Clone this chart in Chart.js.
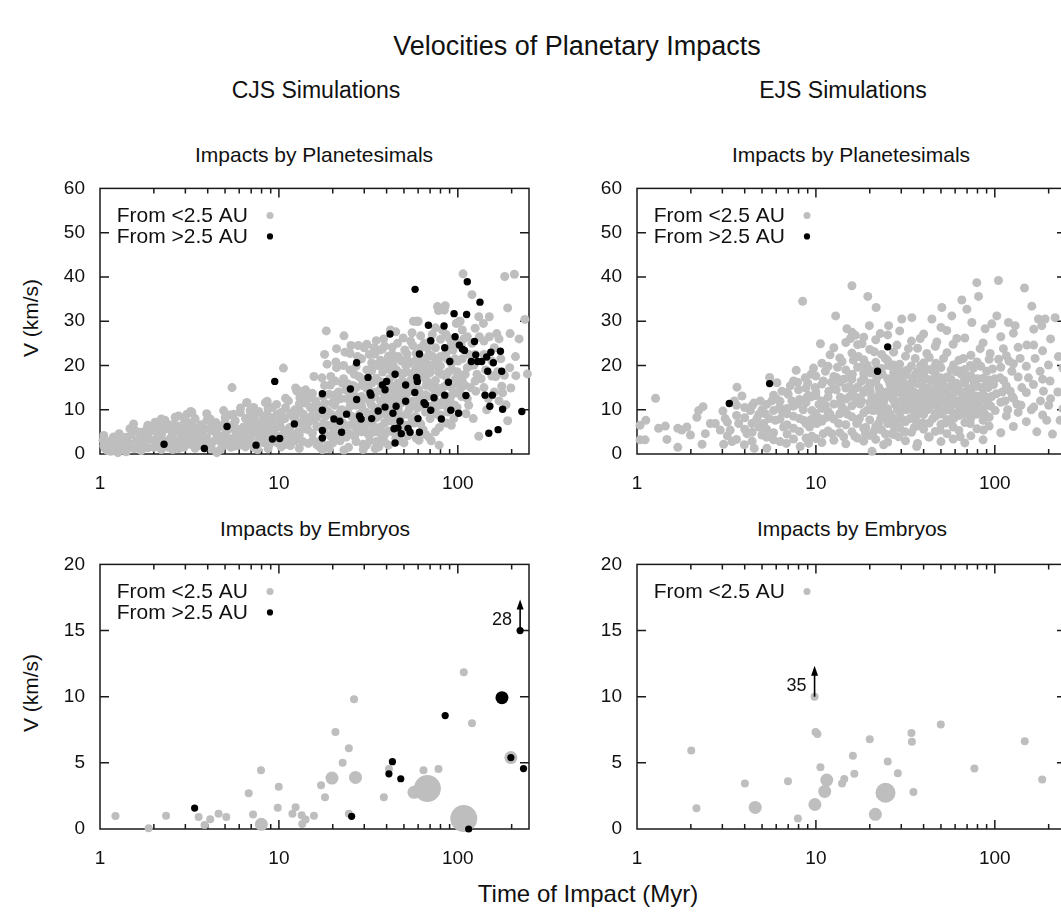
<!DOCTYPE html>
<html>
<head>
<meta charset="utf-8">
<title>Velocities of Planetary Impacts</title>
<script src="https://cdn.jsdelivr.net/npm/chart.js@4.4.1/dist/chart.umd.min.js"></script>
<style>
html, body { margin: 0; padding: 0; background: #fff; overflow: hidden; }
#fig { position: relative; width: 1061px; height: 921px; overflow: hidden;
       font-family: 'Liberation Sans', Arial, Helvetica, sans-serif; color: #111; }
.t { position: absolute; white-space: nowrap; transform: translate(-50%, -50%); line-height: 1; }
.rot { transform: translate(-50%, -50%) rotate(-90deg); }
canvas { position: absolute; }
</style>
</head>
<body>
<div id="fig">
  <div class="t" style="left:577px;top:46px;font-size:27px">Velocities of Planetary Impacts</div>
  <div class="t" style="left:316px;top:90px;font-size:23px">CJS Simulations</div>
  <div class="t" style="left:843px;top:90px;font-size:23px">EJS Simulations</div>
  <div class="t" style="left:314px;top:154px;font-size:21px">Impacts by Planetesimals</div>
  <div class="t" style="left:851px;top:154px;font-size:21px">Impacts by Planetesimals</div>
  <div class="t" style="left:315px;top:528px;font-size:21px">Impacts by Embryos</div>
  <div class="t" style="left:852px;top:528px;font-size:21px">Impacts by Embryos</div>
  <div class="t rot" style="left:30px;top:318px;font-size:21px">V (km/s)</div>
  <div class="t rot" style="left:30px;top:693px;font-size:21px">V (km/s)</div>
  <div class="t" style="left:588px;top:894px;font-size:24px">Time of Impact (Myr)</div>

  <canvas id="cjsPlan" width="545" height="320" style="left:0;top:170px"></canvas>
  <canvas id="ejsPlan" width="545" height="320" style="left:537px;top:170px"></canvas>
  <canvas id="cjsEmb" width="545" height="319" style="left:0;top:546px"></canvas>
  <canvas id="ejsEmb" width="545" height="319" style="left:537px;top:546px"></canvas>
</div>

<script>
// x axis labels (Myr, log scale)
const xTickValues = [1, 10, 100];
const seriesLabels = ['From <2.5 AU', 'From >2.5 AU'];

// CJS, impacts by planetesimals: [time Myr, velocity km/s]
const cjsPlanInner = [
  [1.04,3.1],[1.07,1.25],[1.14,2.0],[1.19,3.85],[1.24,2.7],[1.26,0.3],[1.32,3.5],[1.35,2.0],[1.47,5.7],[1.54,6.8],
  [1.57,5.3],[1.64,1.6],[1.68,3.85],[1.79,3.5],[1.83,5.7],[1.95,5.3],[2.03,7.2],[2.08,2.4],[2.17,6.1],[2.21,4.6],
  [2.31,7.6],[2.36,5.7],[2.41,3.1],[2.52,5.3],[2.63,8.3],[2.69,6.4],[2.81,4.6],[2.93,2.4],[2.99,7.6],[3.06,9.0],
  [3.13,5.3],[3.26,9.4],[3.33,6.1],[3.41,3.1],[3.56,5.3],[3.87,5.7],[3.96,7.6],[4.13,7.9],[4.22,5.3],[4.41,3.1],
  [4.5,0.3],[4.91,9.8],[5.01,8.3],[5.13,5.3],[5.47,15.0],[5.58,9.0],[5.71,5.3],[5.83,3.1],[6.08,9.4],[6.35,6.1],
  [6.63,11.6],[6.78,8.3],[6.92,5.3],[7.23,10.5],[7.38,7.6],[7.87,3.1],[8.05,6.1],[8.4,11.6],[8.59,9.0],[8.77,6.1],
  [9.16,10.5],[9.77,9.0],[10.2,6.1],[10.6,19.4],[10.9,10.5],[11.3,12.0],[12.1,8.3],[12.6,14.2],[13.1,12.7],[13.7,9.0],
  [14.3,13.4],[15.0,10.5],[15.7,7.6],
  [1.1,0.8],[1.2,1.5],[1.3,1.0],[1.45,2.5],[1.55,1.2],[1.6,3.0],[1.75,2.2],[1.9,3.3],[2.0,1.5],[2.1,4.0],
  [2.25,2.8],[2.4,1.5],[2.5,3.8],[2.6,2.0],[2.75,1.2],[2.85,3.6],[3.0,4.5],[3.2,2.2],[3.5,1.8],[3.7,4.2],
  [3.9,2.8],[4.0,1.8],[4.3,6.5],[4.6,4.2],[4.8,2.5],[5.2,3.5],[5.4,1.5],[5.6,6.8],[6.0,2.0],[6.2,4.5],
  [6.5,3.0],[6.8,6.8],[7.0,2.2],[7.4,4.8],[7.6,1.0],[7.8,5.5],[8.2,8.5],[8.4,3.8],[8.8,2.0],[9.0,7.5],
  [9.4,4.8],[9.8,2.5],[10.4,4.2],[10.8,8.0],[11.0,2.2],[11.5,6.0],[11.8,3.5],[12.3,10.0],[12.8,5.0],[13.3,7.0],
  [13.6,2.8],[14.0,11.5],[14.5,5.5],[15.2,8.5],[15.5,3.2],[16.0,12.0],[16.3,6.2],[16.8,9.5],[17.0,1.5],
  [3.22,9.6],[6.6,11.6],[8.6,11.9],[14.1,14.5],[15.7,17.5],[13.2,14.2],[12.4,14.9],
  [1.05,1.8],[1.05,4.2],[1.15,0.6],[1.15,3.0],[1.28,2.2],[1.28,4.6],[1.4,1.2],[1.4,3.8],[1.4,0.5],[1.5,4.4],
  [1.7,0.8],[1.7,2.8],[1.7,4.9],[1.85,1.4],[1.85,4.3],[1.85,6.5],[2.05,3.0],[2.05,5.8],[2.2,1.0],[2.2,3.5],
  [2.2,7.9],[2.35,2.3],[2.35,6.9],[2.55,1.0],[2.55,4.5],[2.55,6.6],[2.75,3.0],[2.75,5.8],[2.75,8.6],[2.95,1.5],
  [2.95,5.0],[2.95,6.9],[3.15,3.5],[3.15,7.0],[3.4,1.3],[3.4,4.4],[3.4,8.0],[3.65,2.9],[3.65,6.6],[3.95,3.8],
  [3.95,9.1],[4.2,1.2],[4.2,2.4],[4.2,6.0],[4.45,4.8],[4.45,7.1],[4.7,1.0],[4.7,3.3],[4.7,6.2],[5.0,2.0],
  [5.0,4.4],[5.0,7.2],[5.3,2.8],[5.3,6.0],[5.3,8.8],[5.7,1.8],[5.7,4.0],[5.7,7.5],[6.1,3.3],[6.1,5.6],
  [6.1,10.4],[6.5,1.6],[6.5,4.9],[6.5,8.0],[6.9,3.7],[6.9,6.4],[6.9,9.8],[7.3,1.4],[7.3,5.8],[7.3,8.7],
  [7.7,3.2],[7.7,7.0],[7.7,9.6],[8.2,2.6],[8.2,4.5],[8.2,6.8],[8.7,1.2],[8.7,5.0],[8.7,8.1],[8.7,10.2],
  [9.2,2.9],[9.2,5.6],[9.2,8.2],[9.7,3.8],[9.7,6.8],[9.7,11.2],[10.3,1.6],[10.3,7.6],[10.3,9.4],[10.9,3.1],
  [10.9,5.3],[10.9,12.6],[11.6,1.9],[11.6,4.7],[11.6,9.2],[12.3,3.0],[12.3,6.9],[12.3,8.4],[13.0,1.3],[13.0,4.3],
  [13.0,9.9],[13.0,11.3],[13.8,5.7],[13.8,8.1],[14.6,2.4],[14.6,7.1],[14.6,12.5],[15.4,4.7],[15.4,10.2],[15.4,13.7],
  [16.3,2.1],[16.3,8.3],[16.3,11.1],
  [18.4,27.8],[23.1,26.7],[23.4,23.0],[21.0,19.5],[18.6,20.3],[19.4,15.6],
  [17.5,1.0],[17.8,7.0],[18.0,11.5],[18.3,4.5],[19.0,13.5],[19.6,9.0],[20.0,2.5],[20.2,5.5],[20.5,11.0],[21.2,8.0],
  [21.5,14.0],[22.0,3.0],[22.5,10.0],[23.0,17.0],[23.5,6.0],[24.0,12.5],[24.5,1.5],[25.0,19.0],[25.5,8.5],[26.0,15.5],
  [26.5,4.0],[27.0,11.0],[27.5,22.0],[28.0,17.5],[28.5,6.5],[29.0,13.0],[29.5,2.2],[30.0,24.0],[30.5,9.5],[31.0,19.0],
  [31.5,4.5],[32.0,22.5],[32.5,11.5],[33.0,16.0],[33.5,6.5],[34.0,24.0],[34.5,1.2],[35.0,14.0],[35.5,20.0],[36.0,8.5],
  [36.5,23.5],[37.0,12.0],[37.5,3.5],[38.0,18.5],[38.5,26.0],[39.0,7.0],[40.0,21.0],[40.5,13.0],[41.0,2.0],[41.5,17.0],
  [42.0,28.0],[42.5,10.0],[43.0,22.5],[44.0,15.0],[45.0,3.5],[45.5,19.0],[46.0,25.0],[47.0,12.5],[48.0,8.5],[48.5,21.0],
  [49.0,16.5],[50.0,2.5],[50.5,23.5],[51.5,9.0],[52.0,18.5],[53.0,14.0],[54.0,20.5],[55.0,11.0],[56.0,24.5],[57.0,7.0],
  [58.0,19.0],[58.5,30.0],[60.0,30.0],[60.5,14.5],[62.0,22.0],[63.0,17.5],[64.0,5.5],[65.0,25.0],[66.0,9.5],[67.0,19.5],
  [68.0,13.0],[69.0,22.5],[70.0,16.0],[71.0,3.0],[72.0,27.0],[73.0,20.0],[74.0,10.5],[75.0,24.0],[76.0,15.0],[78.0,18.5],
  [79.0,6.0],[80.0,22.0],[82.0,28.0],[83.0,12.0],[84.0,32.5],[85.0,33.5],[86.0,17.5],[87.0,21.5],[88.0,9.5],[90.0,26.0],
  [92.0,15.0],[93.0,19.0],[94.0,23.5],[95.0,8.0],[97.0,17.0],[98.0,29.5],[100.0,21.0],[102.0,30.0],[103.0,14.5],[107,40.7],
  [108,26.0],[110,18.0],[111,9.1],[115,22.5],[118,15.0],
  [131,31.0],[139,29.5],[165,27.2],[196,27.2],[183,40.1],[207,40.6],[237,30.4],[245,18.1],[211,17.7],[182,17.8],
  [176,15.3],[178,13.8],[186,11.1],[131,4.0],[126,14.2],[77,33.3],[78,32.4],[67,17.8],[56.5,30.0],[59.5,30.0],
  [45,27.6],[47.5,18.2],[43,24.1],[37.9,23.7],[34.3,22.6],[62,26.7],[66,24.9],[52,22.6],[95,26.0],[103,30.0],
  [100,29.6],[198,14.9],[174,21.5],[167,18.6],[123,20.1],[78.6,2.0],[75,20.1],[69,3.8],[60.7,3.1],[36.2,1.6],
  [29.6,1.0],[23.1,0.9],
  [17.2,3.2],[17.6,13.0],[18.2,8.5],[18.8,2.0],[19.2,6.5],[19.8,11.5],[20.6,16.5],[21.4,4.0],[22.2,12.5],[22.8,7.0],
  [23.6,14.5],[24.2,9.5],[24.8,4.5],[25.6,12.0],[26.4,18.0],[27.2,5.5],[28.2,9.0],[29.2,15.5],[30.2,6.0],[31.2,12.5],
  [32.2,3.0],[33.2,9.0],[34.2,13.0],[35.2,5.0],[36.2,16.5],[37.2,9.5],[38.2,14.0],[39.2,4.5],[40.2,11.0],[41.2,7.5],
  [42.2,15.5],[43.2,5.0],[44.2,12.0],[45.2,8.0],[46.2,16.0],[47.2,3.0],[48.2,11.5],[50.2,14.0],[52.2,6.5],[54.2,16.5],
  [56.2,12.0],[58.2,8.5],[60.2,20.0],[63.5,11.0],[66.5,15.5],[70.5,20.0],[74.5,13.5],[78.5,11.0],[82.5,15.0],[86.5,7.0],
  [90.5,12.0],[96.0,11.0],[100.0,16.0],[105.0,13.0],[115.0,11.0],[122.0,8.0],[135.0,17.0],[145.0,10.0],[160.0,14.0],[190.0,7.5],
  [150.0,26.5],[120.0,25.0],[160.0,24.0],[210.0,22.0],
  [18,15.5],[18,22.5],[19.5,4.0],[19.5,17.5],[21,6.3],[21,12.2],[21,23.8],[23,4.2],[23,9.1],[23,20.0],
  [25,6.5],[25,10.8],[25,13.6],[25,22.7],[27,2.8],[27,8.2],[27,15.0],[27,19.8],[29,5.0],[29,10.8],
  [29,17.0],[29,21.5],[31,7.5],[31,14.8],[31,24.8],[33,4.8],[33,11.0],[33,18.8],[33,20.6],[35,2.8],
  [35,8.2],[35,17.1],[35,25.6],[37,6.1],[37,10.5],[37,14.7],[37,21.2],[39,2.7],[39,9.0],[39,12.5],
  [39,19.6],[39,24.4],[41,5.2],[41,11.8],[41,14.0],[41,22.1],[43.5,7.3],[43.5,9.8],[43.5,17.7],[43.5,20.0],
  [46.5,4.5],[46.5,10.0],[46.5,13.9],[46.5,22.0],[49.5,6.6],[49.5,12.2],[49.5,18.2],[49.5,26.2],[52.5,4.1],[52.5,11.6],
  [52.5,15.6],[52.5,21.1],[55.5,8.0],[55.5,14.3],[55.5,18.0],[55.5,27.4],[58.5,3.6],[58.5,11.4],[58.5,16.0],[58.5,22.8],
  [62,6.8],[62,12.6],[62,19.3],[62,24.0],[66,4.4],[66,13.4],[66,17.0],[66,21.0],[70,8.0],[70,10.8],
  [70,18.4],[70,25.5],[75,5.0],[75,12.0],[75,16.6],[75,21.4],[75,28.5],[80,8.8],[80,14.0],[80,19.9],
  [80,25.9],[86,11.5],[86,15.5],[86,23.0],[86,27.0],[92,6.5],[92,13.2],[92,20.5],[92,24.8],[99,10.5],
  [99,13.8],[99,18.6],[99,25.0],[106,16.5],[106,21.5],[106,28.0],[113,12.5],[113,19.5],[113,26.5],[125,16.5],
  [125,22.5],[125,28.4],[140,15.0],[140,22.5],[140,25.5],[155,17.6],[155,21.0],[170,12.0],[170,26.0],
  [17.4,17.2],[17.9,5.8],[18.7,9.7],[19.1,1.2],[20.3,13.3],[20.8,20.8],[21.8,9.2],[22.6,16.0],[23.8,3.8],[24.4,15.8],
  [25.3,24.5],[26.2,7.2],[26.8,13.0],[27.8,24.5],[28.8,11.8],[30.4,16.2],[30.8,2.0],[31.8,9.0],[32.8,14.0],[33.8,20.3],
  [34.8,10.3],[36.8,5.5],[37.8,20.8],[38.8,16.2],[40.8,8.6],[41.8,19.0],[42.8,13.2],[44.6,21.5],[45.6,12.8],[47.6,14.6],
  [48.8,5.8],[51.0,13.0],[51.2,20.0],[53.5,10.0],[54.5,25.5],[56.8,15.0],[57.8,21.0],[59.3,10.4],[61.2,12.5],[61.5,18.5],
  [64.5,21.5],[65.5,13.2],[67.5,24.0],[69.5,10.0],[71.5,15.0],[72.5,22.0],[76.5,9.0],[77.5,21.0],[81.5,18.0],[84.5,11.0],
  [88.5,18.5],[89.5,23.5],[91.0,10.0],[96.5,21.5],[101.5,18.0],[104.5,24.5],[109.5,15.5],[117.5,20.0],[128,18.0],[132,26.5],
  [143,19.0],[148,12.5],[163,17.5],[195,19.5],[220,26.0],[190,33.0],[150,31.0],[120,36.0]
];

const cjsPlanOuter = [
  [2.28,2.2],[3.83,1.25],[5.13,6.2],[7.45,2.0],[9.2,3.4],[10.1,3.5],[9.48,16.4],[12.2,6.8],[17.5,13.6],[17.5,9.9],
  [17.5,5.3],[17.5,3.6],[20.3,7.9],[21.9,7.4],[22.4,4.9],[23.9,9.0],[25.1,14.7],[27.2,20.6],[27.2,12.3],[28.2,8.6],
  [28.8,7.9],[31.5,17.3],[32.3,13.8],[32.7,13.3],[33.0,8.0],[35.9,9.7],[37.9,15.6],[39.2,14.5],[40.0,16.4],[39.2,10.6],
  [41.8,27.1],[43.4,9.2],[44.0,5.7],[44.6,18.0],[45.2,10.8],[44.6,2.5],[46.3,5.9],[47.5,7.4],[48.3,4.6],[51.1,15.6],
  [51.1,11.9],[52.7,5.8],[54.1,4.9],[57.7,37.2],[57.5,13.9],[58.9,17.3],[59.4,16.4],[59.9,8.0],[61.0,22.6],[61.0,4.9],
  [64.7,11.6],[65.9,11.2],[68.5,29.1],[70.6,25.6],[70.6,9.9],[73.6,12.7],[80.9,7.9],[83.8,28.9],[84.5,24.0],[84.5,13.3],
  [88.7,16.2],[90.2,20.9],[91.4,9.9],[95.3,31.7],[96.6,26.5],[101,9.2],[102,24.6],[106,23.7],[109,23.4],[112,31.5],
  [113,38.9],[111,13.2],[119,20.9],[124,25.4],[126,22.4],[129,20.9],[133,34.3],[136,20.9],[142,13.3],[145,21.9],
  [147,18.7],[149,4.7],[151,10.8],[153,23.0],[156,13.3],[158,20.6],[168,5.5],[173,23.2],[176,18.7],[178,10.1],
  [228,9.6]
];

// EJS, impacts by planetesimals
const ejsPlanInner = [
  [1.04,6.5],[1.04,3.2],[1.11,3.2],[1.12,7.6],[1.27,12.6],[1.32,5.8],[1.44,6.3],[1.47,3.3],[1.69,1.5],[1.69,5.8],
  [1.78,5.4],[1.9,6.1],[1.99,4.3],[2.16,8.3],[2.21,9.8],[2.31,2.2],[2.34,10.7],[2.41,4.6],[2.57,6.9],[2.74,6.9],
  [2.92,5.4],[3.02,9.7],[3.05,2.2],[3.11,8.0],[3.32,5.4],[3.40,2.8],[3.62,15.1],[3.70,6.9],[3.86,13.1],[3.98,2.1],
  [4.12,4.6],[4.30,9.8],[4.39,6.9],[4.52,1.3],[4.68,8.0],[4.89,12.0],[4.99,4.3],[5.10,6.9],[5.21,9.1],[5.32,1.3],
  [5.51,17.3],[5.67,12.0],[5.80,3.2],[5.93,7.6],[6.06,16.1],[6.27,10.6],[6.46,14.2],[6.60,6.1],[6.83,2.4],[6.89,9.1],
  [7.19,15.4],[7.34,12.0],[7.50,5.8],[7.76,18.9],[7.90,11.3],[8.17,1.7],[8.43,34.5],[8.53,7.6],[8.71,17.2],[8.91,12.8],
  [9.10,2.4],[9.22,6.1],[9.50,9.8],[9.70,19.4],[9.91,15.0],[10.1,6.9],[10.6,24.9],[10.8,12.0],[11.0,4.6],[11.3,18.7],
  [11.5,8.3],[11.8,14.2],[12.0,22.4],[12.3,4.6],[12.6,11.3],[12.9,31.2],[13.1,17.2],[13.4,6.9],[13.7,12.8],[14.0,20.9],
  [14.3,3.9],[14.6,9.8],[14.9,28.3],[15.2,17.2],[15.6,26.1],[15.9,38.0],[16.1,14.2],[16.6,26.8],[16.9,6.9],[17.3,22.0],
  [17.7,11.3],[18.1,24.9],[18.5,17.2],[18.9,4.6],[19.3,20.1],[19.5,35.6],[19.9,29.0],[20.1,14.2],[20.6,0.6],[20.8,9.8],
  [21.2,23.1],[21.7,33.1],[21.9,17.2],[22.4,6.9],[22.9,27.2],[23.4,12.8],[23.9,2.1],[24.4,21.6],[24.9,8.3],[25.5,29.0],
  [26.0,15.7],[26.6,4.6],[27.2,20.1],[27.7,11.3],[28.4,24.6],[29.0,3.9],[29.6,15.0],[30.2,30.5],[30.9,7.6],[31.6,18.7],
  [32.2,12.0],[32.9,23.8],[33.6,15.7],[34.4,30.8],[35.1,9.8],[35.9,21.6],[36.6,1.7],[37.5,13.5],[38.3,26.1],[39.1,6.9],
  [40.0,17.9],[40.8,11.3],[41.7,22.7],[42.6,3.9],[43.5,14.2],[44.5,30.5],[45.4,19.4],[46.4,9.1],[47.4,25.3],[48.4,15.7],
  [49.5,5.4],[50.6,33.1],[51.7,21.6],[52.8,12.0],[53.9,27.9],[55.1,17.2],[56.3,7.6],[57.5,31.2],[58.7,20.1],[60.0,11.3],
  [61.3,26.1],[62.6,15.0],[64.0,3.9],[65.4,34.8],[66.8,21.6],[68.2,11.3],[69.8,32.7],[71.3,17.2],[72.8,6.9],[74.4,29.7],
  [76.0,19.4],[77.6,12.0],[79.3,38.7],[81.1,35.6],[82.8,23.8],[84.6,15.0],[86.4,5.4],[88.3,28.3],[90.2,18.7],[92.2,11.3],
  [94.2,22.7],[96.2,29.4],[98.4,15.7],[100.5,9.8],[102.6,31.2],[104.8,39.2],[107.1,17.2],[111.7,23.8],[114.2,12.0],[119.2,29.7],
  [121.9,14.2],[124.5,18.7],[130.0,29.0],[132.8,11.3],[138.6,21.6],[141.6,15.0],[146.5,37.5],[151.0,24.6],[154.2,17.2],[161.0,33.4],
  [164.4,15.7],[168.0,21.6],[171.7,5.0],[175.4,30.5],[179.1,18.7],[183.1,29.0],[187.0,14.2],[191.0,30.5],[195.1,7.6],[199.4,20.1],
  [203.7,16.5],[217.3,30.8],[226.8,22.0],[231.7,7.6],
  [15,9],[15.5,13],[16,18],[16.5,4],[17,15],[17.5,8],[18,12],[18.5,20],[19,6],[19.5,10],
  [20,16],[20.5,13],[21,5],[21.5,19],[22,10],[22.5,15],[23,8],[23.5,18],[24,12],[24.5,4.5],
  [25,14],[25.5,20],[26,9],[26.5,17],[27,13],[27.5,6],[28,16],[28.5,10],[29,19],[29.5,14],
  [30,8],[30.5,12],[31,16],[31.5,5],[32,10],[32.5,19],[33,13],[33.5,8],[34,16],[34.5,11],
  [35,14],[35.5,6],[36,18],[36.5,12],[37,9],[37.5,16],[38,13],[38.5,20],[39,11],[39.5,7],
  [40,14],[41,17],[42,10],[43,12],[44,19],[45,8],[46,13],[47,16],[48,11],[49,20],
  [50,9],[51,14],[52,17],[53,7],[54,12],[55,15],[56,10],[57,19],[58,13],[59,8],
  [61,16],[63,11],[65,18],[67,9],[69,14],[71,12],[73,20],[75,15],[78,10],[80,17],
  [84,13],[88,9],[92,15],[96,13],[100,17],[110,14],[118,10],[125,13],[140,11],[160,10],
  [180,12],[200,11],[210,4.5],[225,14],
  [3.5,12],[4.0,10.5],[4.5,11.5],[5.0,10.0],[5.5,8.0],[6.0,12.5],[6.5,9.5],[7.0,13.5],[7.5,8.5],[8.0,14.5],
  [8.5,10.0],[9.0,16.0],[9.5,4.0],[10,14.0],[10.5,8.0],[11,16.5],[12,9.0],[13,14.5],[14,10.5],
  [10,3.5],[10,8.8],[10,13.2],[10,17.6],[10.8,2.6],[10.8,7.4],[10.8,10.3],[10.8,15.8],[10.8,20.5],[11.7,5.2],
  [11.7,9.6],[11.7,12.9],[11.7,19.8],[12.6,3.1],[12.6,7.9],[12.6,14.8],[12.6,17.5],[12.6,24.0],[13.6,4.8],[13.6,9.1],
  [13.6,11.4],[13.6,16.2],[13.6,21.7],[14.7,2.3],[14.7,6.6],[14.7,12.4],[14.7,14.9],[14.7,19.0],[14.7,25.2],[15.9,5.0],
  [15.9,8.4],[15.9,10.9],[15.9,16.9],[15.9,22.8],[15.9,27.5],[17.1,3.6],[17.1,7.2],[17.1,12.7],[17.1,15.1],[17.1,19.6],
  [17.1,24.7],[18.5,2.9],[18.5,5.8],[18.5,9.3],[18.5,13.9],[18.5,18.2],[18.5,21.3],[18.5,26.4],[20,4.2],[20,7.7],
  [20,11.6],[20,15.4],[20,18.9],[20,23.6],[21.6,3.3],[21.6,6.2],[21.6,9.9],[21.6,12.3],[21.6,16.3],[21.6,20.7],
  [21.6,25.8],[23.3,5.4],[23.3,8.6],[23.3,11.1],[23.3,14.1],[23.3,19.3],[23.3,22.5],[25.2,2.7],[25.2,6.9],[25.2,10.2],
  [25.2,13.3],[25.2,17.0],[25.2,21.1],[25.2,26.9],[27.2,4.4],[27.2,8.0],[27.2,12.1],[27.2,14.6],[27.2,18.4],[27.2,23.0],
  [29.4,5.9],[29.4,9.4],[29.4,11.8],[29.4,16.6],[29.4,20.3],[29.4,27.8],[31.7,3.0],[31.7,7.3],[31.7,10.7],[31.7,13.7],
  [31.7,17.8],[31.7,22.1],[34.2,4.9],[34.2,8.2],[34.2,12.6],[34.2,14.4],[34.2,19.9],[34.2,25.5],[37,2.4],[37,6.4],
  [37,9.8],[37,11.5],[37,15.9],[37,18.6],[37,23.9],[40,5.6],[40,8.9],[40,12.9],[40,15.2],[40,20.6],
  [40,27.1],[43,3.8],[43,7.0],[43,10.5],[43,13.4],[43,16.8],[43,21.8],[46.5,5.1],[46.5,8.5],[46.5,11.2],
  [46.5,14.7],[46.5,18.1],[46.5,24.3],[50,2.8],[50,6.7],[50,9.6],[50,12.2],[50,16.4],[50,19.5],[50,28.6],
  [54,4.6],[54,7.8],[54,10.8],[54,13.8],[54,17.4],[54,22.9],[58.5,3.4],[58.5,6.1],[58.5,9.2],[58.5,12.5],
  [58.5,15.6],[58.5,24.8],[63,5.3],[63,8.7],[63,11.9],[63,14.3],[63,18.8],[63,21.2],[68,2.5],[68,7.1],
  [68,9.7],[68,13.1],[68,16.1],[68,19.1],[68,26.2],[73.5,4.1],[73.5,8.1],[73.5,10.4],[73.5,14.0],[73.5,17.7],
  [73.5,22.3],[79.5,5.7],[79.5,9.0],[79.5,11.6],[79.5,15.3],[79.5,20.8],[86,3.2],[86,7.6],[86,10.1],[86,13.5],
  [86,17.1],[86,25.1],[93,6.3],[93,8.3],[93,12.8],[93,16.7],[93,21.4],
  [108,4.8],[108,11.7],[108,19.6],[108,26.5],[116,8.6],[116,15.4],[116,22.2],[127,6.2],[127,12.6],[127,20.4],
  [127,27.3],[135,9.4],[135,17.4],[135,24.1],[150,7.3],[150,13.9],[150,19.8],[165,10.6],[165,24.6],[165,28.2],
  [185,8.8],[185,16.9],[185,23.3],[205,12.5],[205,26.0],[240,10.2],[240,19.4],
  [3.2,4.1],[3.2,7.2],[3.6,3.3],[3.6,8.7],[3.6,11.0],[4.0,5.6],[4.0,8.2],[4.4,2.9],[4.4,4.9],[4.4,10.9],
  [4.8,6.1],[4.8,9.0],[5.3,3.8],[5.3,5.6],[5.3,11.2],[5.8,4.8],[5.8,9.8],[5.8,13.3],[6.3,2.8],[6.3,7.9],
  [6.3,11.9],[6.9,4.5],[6.9,6.6],[6.9,10.3],[6.9,13.9],[7.5,3.4],[7.5,10.8],[7.5,16.5],[8.1,5.1],[8.1,8.0],
  [8.1,12.3],[8.8,3.6],[8.8,6.9],[8.8,11.6],[8.8,14.9],[9.4,7.8],[9.4,12.9],[9.4,18.0],
  [24.2,10.6],[25.8,16.3],[26.8,12.5],[27.9,7.1],[28.9,18.1],[30.1,13.6],[31.1,10.1],[32.4,15.2],[33.3,11.3],[34.7,17.3],
  [35.6,13.9],[36.2,7.6],[37.8,12.2],[38.8,17.6],[39.6,14.5],[40.6,10.3],[41.4,19.2],[42.3,14.8],[43.9,11.7],[44.7,16.5],
  [45.8,12.6],[46.9,20.5],[47.8,10.7],[48.9,13.6],[49.7,17.2],[51.3,11.8],[52.4,15.3],[53.2,9.9],[55.8,12.9],[56.9,16.9],
  [57.8,11.2],[59.6,14.8],[60.6,18.6],[61.8,9.4],[64.3,13.8],[65.8,10.2],[67.3,16.4],[69.2,11.5],[70.6,14.6],[72.3,9.1],
  [74.9,12.4],[76.8,16.2],[78.8,13.1],[81.8,11.0],[83.5,19.8],[89,12.1],[91,16.0],[95,10.8],[97,19.2],[102,13.6],
  [105,21.4],[112,16.6],[120,21.0],[23.8,9.9],[22.7,13.8],[21.4,11.2],[20.4,18.3],[19.1,14.6],[17.9,16.4],[16.8,11.7],
  [16.2,21.2],[15.4,15.2],[14.3,16.9],[13.2,19.6],[12.2,16.2],[11.3,11.0],[10.4,11.2],[9.9,9.2],[9.1,13.2],[7.9,16.2]
];

const ejsPlanOuter = [[3.28,11.4],[5.51,15.9],[22.1,18.7],[25.2,24.2]];

// impacts by embryos: [time Myr, velocity km/s, impactor size class 1..4]
const cjsEmbInner = [
  [1.22,0.99,1],[1.87,0.05,1],[2.34,1.0,1],[3.56,0.9,1],[3.84,0.3,1],[4.13,0.74,1],[4.60,1.16,1],[5.08,0.91,1],
  [6.78,2.7,1],[7.17,1.1,1],[7.94,4.44,1],[7.98,0.35,2],[9.98,3.2,1],[9.85,1.6,1],[11.9,1.16,1],[12.4,1.65,1],
  [13.4,1.04,1],[14.1,0.72,1],[13.5,0.37,1],[15.7,1.0,1],[17.2,3.3,1],[18.1,2.4,1],[19.8,3.85,2],[20.7,7.33,1],
  [22.7,5.0,1],[24.6,6.1,1],[24.6,1.16,1],[26.8,3.9,2],[26.3,9.8,1],[38.6,2.4,1],[41.2,4.54,1],[56.9,2.77,2],
  [67.6,3.06,4],[64.3,4.44,1],[78.0,4.54,1],[108,0.79,4],[120,8.0,1],[108,11.85,1],[198,5.4,2]
];
const cjsEmbOuter = [
  [3.38,1.58,1],[25.5,0.96,1],[43.1,5.09,1],[41.2,4.17,1],[48.0,3.8,1],[85.0,8.57,1],[115,0.0,1],
  [176.5,9.93,2],[198,5.4,1],[233,4.57,1],[223,15.0,1]
];
// points above the axis range: [time, plotted velocity, true velocity]
const cjsEmbOffscale = [[223, 15.0, '28']];

const ejsEmbInner = [
  [2.01,5.93,1],[2.15,1.56,1],[4.01,3.43,1],[4.58,1.63,2],[6.98,3.6,1],[7.93,0.79,1],[9.87,1.85,2],[9.96,7.33,1],
  [10.2,7.19,1],[10.6,4.67,1],[11.2,2.84,2],[11.5,3.7,2],[14.0,3.43,1],[14.4,3.78,1],[16.1,5.53,1],[16.4,4.17,1],
  [20.0,6.79,1],[21.5,1.11,2],[24.5,2.74,3],[25.2,5.11,1],[28.7,4.22,1],[34.2,7.26,1],[34.4,6.59,1],[35.1,2.79,1],
  [49.9,7.9,1],[76.9,4.57,1],[147,6.64,1],[184,3.75,1],[9.83,10.0,1]
];
const ejsEmbOffscale = [[9.83, 10.0, '35']];

const GRAY = '#bebebe';
const BLACK = '#000000';
const FONT = "'Liberation Sans', Arial, Helvetica, sans-serif";
const sizeRadius = {1: 4, 2: 6.5, 3: 10, 4: 13.5};

Chart.defaults.font.family = FONT;
Chart.defaults.color = '#111';

// frame with inward ticks on all four sides (gnuplot style)
const framePlugin = {
  id: 'frame',
  beforeDatasetsDraw(chart) {
    const {ctx, chartArea: a, scales: {x, y}} = chart;
    ctx.save();
    ctx.strokeStyle = '#1a1a1a';
    ctx.lineWidth = 1.5;
    ctx.strokeRect(a.left, a.top, a.right - a.left, a.bottom - a.top);
    ctx.beginPath();
    for (let d = 1; d <= 100; d *= 10) {
      for (let m = 1; m <= 9; m++) {
        const v = d * m;
        if (v <= x.min || v >= x.max) continue;
        const px = x.getPixelForValue(v);
        const len = m === 1 ? 9 : 5;
        ctx.moveTo(px, a.bottom); ctx.lineTo(px, a.bottom - len);
        ctx.moveTo(px, a.top); ctx.lineTo(px, a.top + len);
      }
    }
    y.ticks.forEach(t => {
      if (t.value <= y.min || t.value >= y.max) return;
      const py = y.getPixelForValue(t.value);
      ctx.moveTo(a.left, py); ctx.lineTo(a.left + 9, py);
      ctx.moveTo(a.right, py); ctx.lineTo(a.right - 9, py);
    });
    ctx.stroke();
    ctx.restore();
  }
};

// key inside the plot: label text, then the marker to its right
const legendPlugin = {
  id: 'insideLegend',
  afterDatasetsDraw(chart, args, opts) {
    const {ctx, chartArea: a} = chart;
    ctx.save();
    ctx.font = '21px ' + FONT;
    ctx.textAlign = 'right';
    ctx.textBaseline = 'middle';
    opts.items.forEach((idx, i) => {
      const ds = chart.data.datasets[idx];
      const yy = a.top + 27 + i * 21;
      ctx.fillStyle = '#111';
      ctx.fillText(ds.label, a.left + 148, yy + 1);
      ctx.beginPath();
      ctx.arc(a.left + 170, yy, ds.keyRadius, 0, Math.PI * 2);
      ctx.fillStyle = ds.backgroundColor;
      ctx.fill();
    });
    ctx.restore();
  }
};

// arrow + true value for impacts above the axis range
const arrowPlugin = {
  id: 'offscale',
  afterDatasetsDraw(chart, args, opts) {
    const {ctx, scales: {x, y}} = chart;
    (opts.points || []).forEach(([t, v, label]) => {
      const px = x.getPixelForValue(t);
      const py = y.getPixelForValue(v);
      ctx.save();
      ctx.strokeStyle = '#000';
      ctx.fillStyle = '#000';
      ctx.lineWidth = 1.6;
      ctx.beginPath();
      ctx.moveTo(px, py);
      ctx.lineTo(px, py - 24);
      ctx.stroke();
      ctx.beginPath();
      ctx.moveTo(px, py - 31);
      ctx.lineTo(px - 3.5, py - 21);
      ctx.lineTo(px + 3.5, py - 21);
      ctx.closePath();
      ctx.fill();
      ctx.font = '18px ' + FONT;
      ctx.textAlign = 'right';
      ctx.textBaseline = 'middle';
      ctx.fillStyle = '#111';
      ctx.fillText(label, px - 8, py - 11);
      ctx.restore();
    });
  }
};

function toXY(arr) {
  return arr.map(p => ({x: p[0], y: p[1]}));
}

function planDataset(label, arr, color, radius, keyRadius, order) {
  return {
    label: label, data: toXY(arr), order: order,
    backgroundColor: color, borderColor: color, keyRadius: keyRadius,
    pointRadius: radius, pointHoverRadius: radius, pointBorderWidth: 0, clip: false
  };
}

function embDataset(label, arr, color, small, keyRadius, order) {
  const radii = arr.map(p => p[2] === 1 ? small : sizeRadius[p[2]]);
  return {
    label: label, data: toXY(arr), order: order,
    backgroundColor: color, borderColor: color, keyRadius: keyRadius,
    pointRadius: radii, pointHoverRadius: radii, pointBorderWidth: 0, clip: false
  };
}

function makePanel(id, yMax, yStep, datasets, legendItems, offscale) {
  return new Chart(document.getElementById(id), {
    type: 'scatter',
    data: {datasets: datasets},
    options: {
      responsive: false,
      animation: false,
      events: [],
      layout: {padding: {top: 13, right: 16, left: 0, bottom: 0}},
      plugins: {
        legend: {display: false},
        tooltip: {enabled: false},
        insideLegend: {items: legendItems},
        offscale: {points: offscale || []}
      },
      scales: {
        x: {
          type: 'logarithmic', min: 1, max: 250,
          grid: {display: false}, border: {display: false},
          afterBuildTicks: s => { s.ticks = xTickValues.map(v => ({value: v})); },
          afterFit: s => { s.height = 36; },
          ticks: {autoSkip: false, maxRotation: 0, padding: 10, font: {size: 19}, color: '#111',
                  callback: v => String(v)}
        },
        y: {
          min: 0, max: yMax,
          grid: {display: false}, border: {display: false},
          afterFit: s => { s.width = 100; },
          ticks: {stepSize: yStep, padding: 7, font: {size: 19}, color: '#111'}
        }
      }
    },
    plugins: [framePlugin, legendPlugin, arrowPlugin]
  });
}

makePanel('cjsPlan', 60, 10, [
  planDataset(seriesLabels[0], cjsPlanInner, GRAY, 4.5, 3.5, 2),
  planDataset(seriesLabels[1], cjsPlanOuter, BLACK, 3.7, 3.1, 1)
], [0, 1]);

makePanel('ejsPlan', 60, 10, [
  planDataset(seriesLabels[0], ejsPlanInner, GRAY, 4.5, 3.5, 2),
  planDataset(seriesLabels[1], ejsPlanOuter, BLACK, 3.7, 3.1, 1)
], [0, 1]);

makePanel('cjsEmb', 20, 5, [
  embDataset(seriesLabels[0], cjsEmbInner, GRAY, 4, 3.5, 2),
  embDataset(seriesLabels[1], cjsEmbOuter, BLACK, 3.6, 3.1, 1)
], [0, 1], cjsEmbOffscale);

makePanel('ejsEmb', 20, 5, [
  embDataset(seriesLabels[0], ejsEmbInner, GRAY, 4, 3.5, 2)
], [0], ejsEmbOffscale);
</script>
</body>
</html>
